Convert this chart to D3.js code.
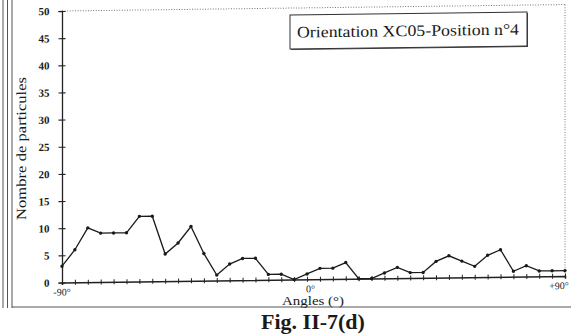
<!DOCTYPE html>
<html>
<head>
<meta charset="utf-8">
<script src="https://cdn.jsdelivr.net/npm/d3@7"></script>
<style>
  html, body { margin: 0; padding: 0; background: #fff; }
  svg { display: block; }
  text { font-family: "Liberation Serif", "DejaVu Serif", serif; fill: #1a1a1a; }
</style>
</head>
<body>
<svg id="chart" width="571" height="334"></svg>
<script>
// Particle counts per orientation bin, from -90° to +90°
const counts = [3, 6, 10, 9, 9, 9, 12, 12, 5, 7,
                10, 5, 1, 3, 4, 4, 1, 1, 0, 1,
                2, 2, 3, 0, 0, 1, 2, 1, 1, 3,
                4, 3, 2, 4, 5, 1, 2, 1, 1, 1];
const yTicks = [0, 5, 10, 15, 20, 25, 30, 35, 40, 45, 50];
const xTickLabels = [[-90, "-90°"], [0, "0°"], [90, "+90°"]];
const seriesName = "Orientation XC05-Position n°4";
const xTitle = "Angles (°)";
const yTitle = "Nombre de particules";
const caption = "Fig. II-7(d)";

const angles = counts.map((_, i) => -90 + i * 180 / (counts.length - 1));

const svg = d3.select("#chart");

// Outer page frame
const frame = svg.append("g").attr("stroke", "#555").attr("fill", "none");
[3, 7.5, 12].forEach(x => frame.append("line")
  .attr("x1", x).attr("x2", x).attr("y1", 0).attr("y2", 308)
  .attr("stroke-width", 1));
frame.append("line").attr("x1", 12).attr("x2", 571).attr("y1", 307).attr("y2", 307)
  .attr("stroke-width", 1.2);

// Plot area (slightly skewed, as printed)
const g = svg.append("g").attr("transform", "translate(0,0.8) skewY(-0.736)");

const x = d3.scaleLinear().domain([-90, 90]).range([62, 565]);
const y = d3.scaleLinear().domain([0, 50]).range([282.5, 11]);

// Dotted frame top and right
g.append("line").attr("x1", x(-90)).attr("x2", x(90)).attr("y1", y(50)).attr("y2", y(50))
  .attr("stroke", "#777").attr("stroke-dasharray", "1,1.6").attr("stroke-width", 1);
g.append("line").attr("x1", x(90)).attr("x2", x(90)).attr("y1", y(50)).attr("y2", y(0))
  .attr("stroke", "#777").attr("stroke-dasharray", "1,1.6").attr("stroke-width", 1);

// Y axis with crossing ticks
const yAxis = d3.axisLeft(y).tickValues(yTicks).tickSize(3.5).tickPadding(9);
const ya = g.append("g").attr("transform", `translate(${x(-90)},0)`).call(yAxis);
ya.select(".domain").attr("stroke", "#222").attr("stroke-width", 1.3);
ya.selectAll(".tick line").attr("x2", 3.5).attr("x1", -3.5).attr("stroke", "#222").attr("stroke-width", 1.1);
ya.selectAll(".tick text").attr("font-size", 11).attr("font-weight", "bold")
  .attr("font-family", "Liberation Serif").attr("fill", "#222");

// X axis with a crossing tick at every bin
const xAxis = d3.axisBottom(x).tickValues(angles).tickSize(2.5).tickFormat("");
const xa = g.append("g").attr("transform", `translate(0,${y(0)})`).call(xAxis);
xa.select(".domain").attr("stroke", "#222").attr("stroke-width", 1.6);
xa.selectAll(".tick line").attr("y1", -2.5).attr("y2", 2.5).attr("stroke", "#222").attr("stroke-width", 1);

g.selectAll(".xlab").data(xTickLabels).join("text")
  .attr("class", "xlab")
  .attr("x", d => x(d[0]) + (d[0] === 90 ? -6 : (d[0] === 0 ? -3 : 0)))
  .attr("y", y(0) + 13)
  .attr("text-anchor", "middle")
  .attr("font-size", 10)
  .text(d => d[1]);

// Axis titles
svg.append("text").attr("x", 313).attr("y", 304.5).attr("text-anchor", "middle")
  .attr("font-size", 11.5).attr("textLength", 62).attr("lengthAdjust", "spacingAndGlyphs")
  .text(xTitle);
g.append("text").attr("transform", "translate(26,148) rotate(-90)")
  .attr("text-anchor", "middle").attr("font-size", 14)
  .attr("textLength", 143).attr("lengthAdjust", "spacingAndGlyphs").text(yTitle);

// Series line and markers
const line = d3.line().x((d, i) => x(angles[i])).y(d => y(d));
g.append("path").datum(counts).attr("d", line)
  .attr("fill", "none").attr("stroke", "#1a1a1a").attr("stroke-width", 1.3);
g.selectAll(".pt").data(counts).join("circle")
  .attr("class", "pt")
  .attr("cx", (d, i) => x(angles[i])).attr("cy", d => y(d))
  .attr("r", 1.7).attr("fill", "#1a1a1a");

// Series label box
const lb = g.append("g");
lb.append("rect").attr("x", 291).attr("y", 19).attr("width", 237).attr("height", 34)
  .attr("fill", "#444");
lb.append("rect").attr("x", 290).attr("y", 18).attr("width", 237).attr("height", 34)
  .attr("fill", "#fff").attr("stroke", "#333").attr("stroke-width", 1);
lb.append("text").attr("x", 297).attr("y", 40.5).attr("font-size", 16)
  .attr("textLength", 222).attr("lengthAdjust", "spacingAndGlyphs").text(seriesName);

// Figure caption
svg.append("text").attr("x", 313).attr("y", 328.5).attr("text-anchor", "middle")
  .attr("font-size", 22).attr("font-weight", "bold").text(caption);
</script>
</body>
</html>
